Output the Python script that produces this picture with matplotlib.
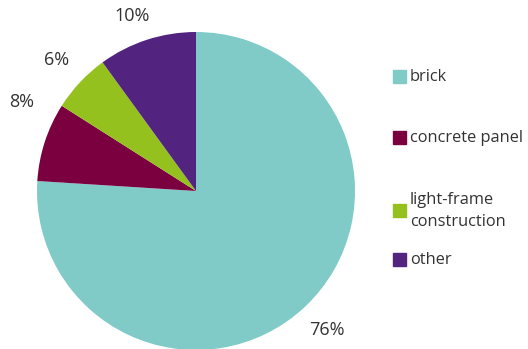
import matplotlib
matplotlib.use("Agg")
import matplotlib.pyplot as plt
import numpy as np
from matplotlib.patches import Rectangle

plt.rcParams['font.family'] = ['Open Sans', 'DejaVu Sans']

categories = ["brick", "concrete panel", "light-frame\nconstruction", "other"]
values = [76, 8, 6, 10]
pct_labels = ["76%", "8%", "6%", "10%"]
colors = ["#80CBC8", "#7B0040", "#95C11F", "#52237F"]

fig = plt.figure(figsize=(5.28, 3.49), dpi=100)
ax = fig.add_axes([37/528, -1/349, 318/528, 318/349])
wedges, _ = ax.pie(values, colors=colors, startangle=90, counterclock=False,
                   radius=1, wedgeprops=dict(linewidth=0))
ax.set_xlim(-1, 1)
ax.set_ylim(-1, 1)
ax.set_aspect('equal')

# label placement (angle offset in degrees, distance)
adj = [(0, 1.20), (-9, 1.23), (0, 1.20), (2, 1.17)]
for w, lab, (da, dist) in zip(wedges, pct_labels, adj):
    ang = np.deg2rad((w.theta1 + w.theta2) / 2 + da)
    ax.text(dist * np.cos(ang), dist * np.sin(ang), lab, ha='center', va='center',
            fontsize=13, color='#333333', clip_on=False)

# legend
ys = [77, 138, 211, 260]
for cat, col, y in zip(categories, colors, ys):
    fig.patches.append(Rectangle((393/528, 1 - (y + 6)/349), 13/528, 13/349,
                                 transform=fig.transFigure, color=col))
    fig.text(410/528, 1 - y/349, cat, ha='left', va='center', fontsize=11.8,
             color='#333333', linespacing=1.45)

fig.savefig("out.png", dpi=100)
